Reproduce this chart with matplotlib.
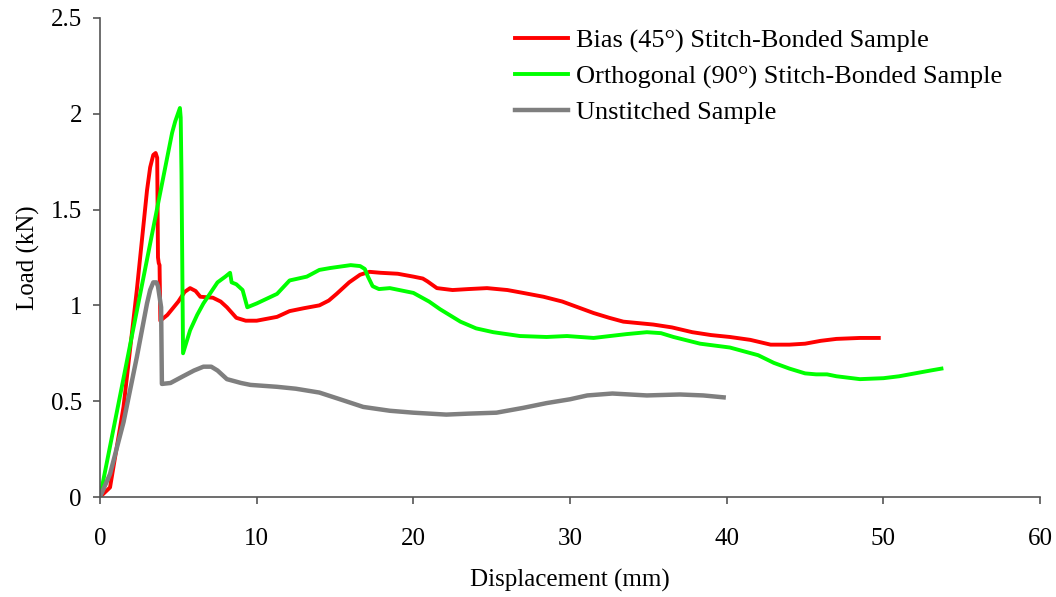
import matplotlib
matplotlib.use("Agg")
import matplotlib.pyplot as plt

# Bias (45 deg) stitch-bonded sample
bias_x = [0, 0.64, 1.5, 2.35, 3.0, 3.2, 3.4, 3.55, 3.65, 3.7, 3.75, 3.8, 3.85, 4.3, 5.0, 5.4, 5.75,
          6.1, 6.4, 7.2, 7.7, 8.1, 8.7, 9.3, 10.0, 11.3, 12.1, 13.0, 14.0, 14.6, 15.1, 15.9,
          16.6, 17.2, 17.9, 19.0, 20.0, 20.6, 20.9, 21.5, 22.5, 23.5, 24.7, 26.0,
          27.0, 28.3, 29.5, 30.5, 31.5, 32.5, 33.4, 35.3, 36.5, 37.8, 39.0, 40.2, 41.5,
          42.8, 44.0, 45.0, 46.0, 47.0, 48.5, 49.7]
bias_y = [0, 0.05, 0.47, 1.08, 1.6, 1.72, 1.785, 1.795, 1.77, 1.25, 1.22, 1.21, 0.92, 0.95, 1.02,
          1.07, 1.09, 1.075, 1.045, 1.04, 1.02, 0.99, 0.935, 0.92, 0.92, 0.94, 0.97, 0.985,
          1.0, 1.025, 1.06, 1.12, 1.16, 1.175, 1.17, 1.165, 1.15, 1.14, 1.125, 1.09, 1.08,
          1.085, 1.09, 1.08, 1.065, 1.045, 1.02, 0.99, 0.96, 0.935, 0.915, 0.90, 0.885,
          0.86, 0.845, 0.835, 0.82, 0.795, 0.795, 0.80, 0.815, 0.825, 0.83, 0.83]

# Orthogonal (90 deg) stitch-bonded sample
orth_x = [0, 4.6, 4.8, 5.1, 5.15, 5.2, 5.3, 5.75, 6.2, 6.6, 7.5, 8.0, 8.3, 8.4, 8.7, 9.1, 9.4,
          10.0, 11.3, 12.1, 13.2, 14.0, 14.7, 16.0, 16.6, 16.9, 17.1, 17.4, 17.8, 18.5, 20.0,
          21.0, 21.7, 23.0, 24.0, 25.1, 26.8, 28.5, 29.8, 31.5, 33.6, 34.9, 35.8, 36.6,
          38.3, 40.2, 42.0, 43.0, 44.0, 45.0, 45.7, 46.4, 47.0, 48.5, 50.0, 51.0, 52.0,
          53.0, 53.7]
orth_y = [0, 1.9, 1.96, 2.03, 1.98, 1.69, 0.75, 0.87, 0.95, 1.01, 1.12, 1.15, 1.17, 1.12, 1.11,
          1.08, 0.99, 1.01, 1.06, 1.13, 1.15, 1.185, 1.195, 1.21, 1.205, 1.19, 1.15, 1.10, 1.085,
          1.09, 1.065, 1.02, 0.98, 0.915, 0.88, 0.86, 0.84, 0.835, 0.84, 0.83, 0.85, 0.86,
          0.855, 0.835, 0.80, 0.78, 0.74, 0.70, 0.67, 0.645, 0.64, 0.64, 0.63, 0.615, 0.62,
          0.63, 0.645, 0.66, 0.67]

# Unstitched sample
uns_x = [0, 0.64, 1.5, 2.35, 3.0, 3.2, 3.4, 3.6, 3.7, 3.9, 3.95, 4.5, 5.3, 6.0, 6.6, 7.1, 7.5,
         8.1, 9.0, 9.6, 11.3, 12.5, 14.0, 15.5, 16.8, 18.5, 20.0, 22.1, 23.5, 25.3, 27.0,
         28.5, 30.0, 31.1, 32.7, 34.9, 37.0, 38.5, 39.8]
uns_y = [0, 0.12, 0.39, 0.73, 1.01, 1.08, 1.12, 1.12, 1.10, 0.99, 0.59, 0.595, 0.63, 0.66,
         0.68, 0.68, 0.66, 0.615, 0.595, 0.585, 0.575, 0.565, 0.545, 0.505, 0.47, 0.45, 0.44,
         0.43, 0.435, 0.44, 0.465, 0.49, 0.51, 0.53, 0.54, 0.53, 0.535, 0.53, 0.52]

plt.rcParams["font.family"] = ["Liberation Serif", "DejaVu Serif"]

fig = plt.figure(figsize=(10.56, 5.97), dpi=100)
ax = fig.add_axes([0.0947, 0.1675, 0.8903, 0.8025])

ax.plot(bias_x, bias_y, color="#ff0000", lw=2.8, label="Bias (45°) Stitch-Bonded Sample")
ax.plot(orth_x, orth_y, color="#00ff00", lw=2.8, label="Orthogonal (90°) Stitch-Bonded Sample")
ax.plot(uns_x, uns_y, color="#7f7f7f", lw=3.2, label="Unstitched Sample")

ax.set_xlim(0, 60)
ax.set_ylim(0, 2.5)
ax.set_xticks(range(0, 61, 10))
ax.set_yticks([0, 0.5, 1, 1.5, 2, 2.5])
ax.set_yticklabels(["0", "0.5", "1", "1.5", "2", "2.5"])
ax.spines["top"].set_visible(False)
ax.spines["right"].set_visible(False)
for s in ("left", "bottom"):
    ax.spines[s].set_color("#555555")
    ax.spines[s].set_linewidth(1.2)
ax.tick_params(direction="out", length=5, width=1.2, color="#555555", labelsize=18)
ax.tick_params(axis="x", pad=17)
ax.tick_params(axis="y", pad=8)
ax.set_xlabel("Displacement (mm)", fontsize=18, labelpad=14)
ax.set_ylabel("Load (kN)", fontsize=18, labelpad=8)

ax.legend(loc="upper left", bbox_to_anchor=(0.4415, 0.977), frameon=False, fontsize=19,
          borderpad=0, borderaxespad=0, handlelength=2.0, handletextpad=0.3, labelspacing=0.46)

plt.savefig("out.png", dpi=100)
